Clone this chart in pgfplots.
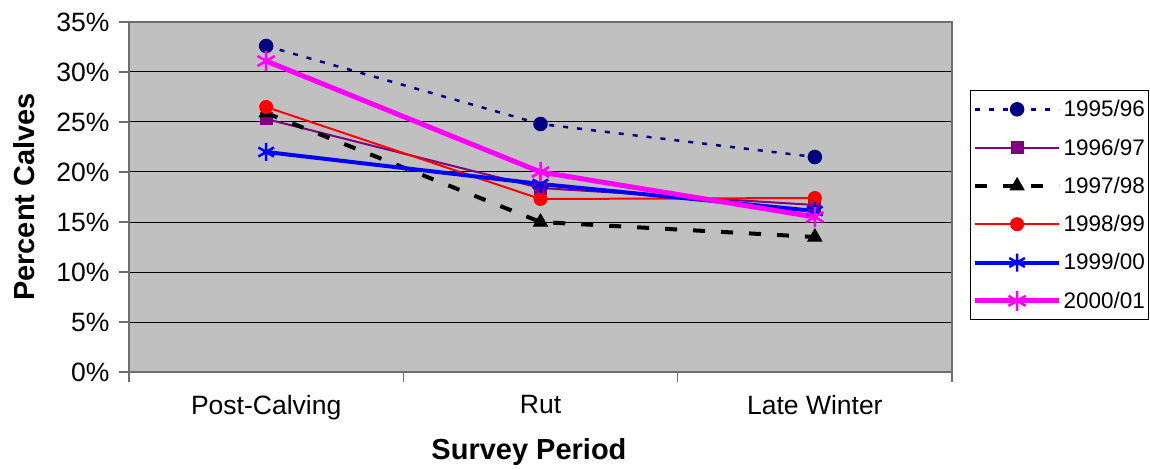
\documentclass[border=0pt]{standalone}
\usepackage{pgfplots}
\pgfplotsset{compat=1.18}
\usepackage{fontspec}
\setmainfont{Liberation Sans}
\definecolor{navyc}{RGB}{0,0,128}
\definecolor{purplec}{RGB}{128,0,128}
\definecolor{magc}{RGB}{255,0,255}
\definecolor{bluec}{RGB}{0,0,255}
\definecolor{redc}{RGB}{255,0,0}
\definecolor{plotbg}{RGB}{192,192,192}
\definecolor{axgray}{RGB}{110,110,110}
\begin{document}
\begin{tikzpicture}
\useasboundingbox (0,0) rectangle (1150pt,469pt);
\begin{axis}[
  at={(129pt,97pt)}, anchor=south west,
  scale only axis, width=823pt, height=350pt,
  xmin=-0.5, xmax=2.5, ymin=0, ymax=35,
  xtick={-0.5,0.5,1.5,2.5},
  xticklabels={Post-Calving,Rut,Late Winter},
  x tick label as interval,
  ytick={0,5,10,15,20,25,30,35},
  yticklabels={0\%,5\%,10\%,15\%,20\%,25\%,30\%,35\%},
  ymajorgrids, major grid style={black, line width=1pt},
  axis background/.style={fill=plotbg},
  axis line style={axgray, line width=1.8pt},
  tick align=outside, major tick length=10pt,
  tick style={axgray, line width=1.2pt},
  ytick pos=left, xtick pos=bottom,
  tick label style={font=\fontsize{26.5}{30}\selectfont},
  xticklabel style={yshift=-10pt},
  yticklabel style={xshift=-6pt},
  xlabel={Survey Period}, ylabel={Percent Calves},
  label style={font=\fontsize{29}{34}\selectfont\bfseries},
  x label style={at={(axis description cs:0.486,-0.229)}, anchor=center},
  y label style={at={(axis description cs:-0.128,0.5)}, anchor=center},
  legend style={at={(1.022,0.806)}, anchor=north west, draw=black, line width=1pt, fill=white,
    font=\fontsize{22.5}{26}\selectfont, row sep=16.5pt, inner xsep=2pt, inner ysep=8pt},
  legend cell align=left,
  legend image code/.code={\draw[mark repeat=2,mark phase=2] plot coordinates {(0pt,0pt) (42pt,0pt) (84pt,0pt)};},
]
\addplot[navyc, line width=2.5pt, dash pattern=on 5pt off 9pt, mark=*, mark size=6pt, mark options={solid, fill=navyc}]
  coordinates {(0,32.6) (1,24.8) (2,21.5)};
\addlegendentry{1995/96}
\addplot[purplec, line width=2pt, mark=square*, mark size=5.5pt, mark options={solid, fill=purplec}]
  coordinates {(0,25.3) (1,18.4) (2,16.7)};
\addlegendentry{1996/97}
\addplot[black, line width=4pt, dash pattern=on 12pt off 16pt, mark=triangle*, mark size=8pt, mark options={solid, line width=1pt, fill=black}]
  coordinates {(0,25.9) (1,15.0) (2,13.5)};
\addlegendentry{1997/98}
\addplot[redc, line width=2pt, mark=*, mark size=6pt, mark options={solid, fill=redc}]
  coordinates {(0,26.5) (1,17.3) (2,17.4)};
\addlegendentry{1998/99}
\addplot[bluec, line width=4pt, mark=asterisk, mark size=9pt, mark options={solid, line width=2.5pt}]
  coordinates {(0,22.0) (1,18.8) (2,16.1)};
\addlegendentry{1999/00}
\addplot[magc, line width=5pt, mark=asterisk, mark size=10pt, mark options={solid, line width=2.5pt}]
  coordinates {(0,31.1) (1,20.0) (2,15.5)};
\addlegendentry{2000/01}
\end{axis}
\end{tikzpicture}
\end{document}
